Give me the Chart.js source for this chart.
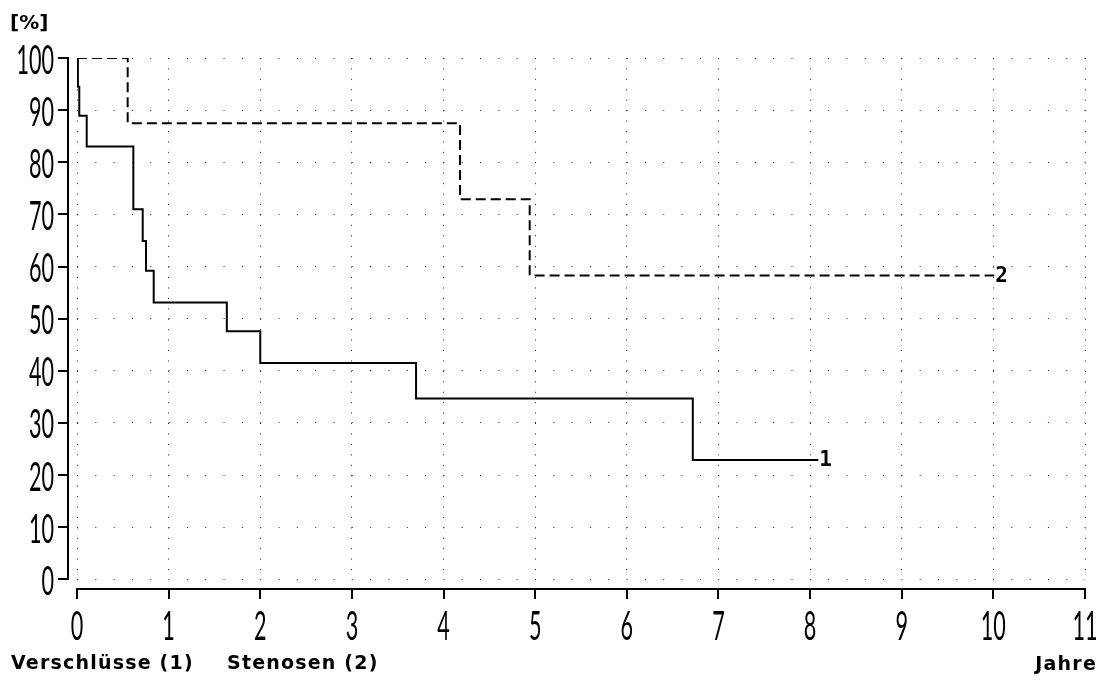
<!DOCTYPE html>
<html lang="de">
<head>
<meta charset="utf-8">
<title>Verschlüsse und Stenosen</title>
<script src="https://cdn.jsdelivr.net/npm/chart.js@4.4.1/dist/chart.umd.min.js"></script>
<style>
  html, body { margin: 0; padding: 0; background: #ffffff; }
  #wrap { position: relative; width: 1107px; height: 681px; }
</style>
</head>
<body>
<div id="wrap"><canvas id="chart"></canvas></div>
<script>
// Survival curves (percent) over follow-up time (years)
const occlusionYears    = [0, 0.01, 0.025, 0.106, 0.615, 0.717, 0.753, 0.837, 1.635, 2.0, 3.70, 6.72, 8.09];
const occlusionPercent  = [100, 94.5, 88.9, 83.0, 71.0, 64.9, 59.2, 53.1, 47.6, 41.5, 34.7, 22.9, 22.9];
const stenosisYears     = [0, 0.553, 4.18, 4.94, 10.01];
const stenosisPercent   = [100, 87.5, 72.9, 58.3, 58.3];

// Axis ticks and text
const xTickValues = [0, 1, 2, 3, 4, 5, 6, 7, 8, 9, 10, 11];
const yTickValues = [0, 10, 20, 30, 40, 50, 60, 70, 80, 90, 100];
const curveTags   = ['1', '2'];
const groupNames  = ['Verschlüsse (1)', 'Stenosen (2)'];
const xAxisName   = 'Jahre';
const yAxisName   = '[%]';

const toPoints = (xs, ys) => xs.map((v, i) => ({ x: v, y: ys[i] }));

// Axis lines, tick marks, stretched tick digits, curve tags and captions
const handAxes = {
  id: 'handAxes',
  afterDraw(chart) {
    const { ctx } = chart;
    const xs = chart.scales.x, ys = chart.scales.y;
    const axisXPos = Math.round(xs.left) - 9;     // vertical axis line
    const axisYPos = Math.round(ys.bottom) + 10;  // horizontal axis line
    ctx.save();
    ctx.strokeStyle = '#000';
    ctx.fillStyle = '#000';
    ctx.lineWidth = 2;
    ctx.lineCap = 'butt';

    // y axis
    ctx.beginPath();
    ctx.moveTo(axisXPos, Math.round(ys.getPixelForValue(100)) - 1);
    ctx.lineTo(axisXPos, Math.round(ys.getPixelForValue(0)) + 1);
    yTickValues.forEach(v => {
      const py = Math.round(ys.getPixelForValue(v));
      ctx.moveTo(axisXPos - 10, py);
      ctx.lineTo(axisXPos + 1, py);
    });
    ctx.stroke();

    // x axis
    ctx.beginPath();
    ctx.moveTo(Math.round(xs.getPixelForValue(0)) - 1, axisYPos);
    ctx.lineTo(Math.round(xs.getPixelForValue(11)) + 1, axisYPos);
    xTickValues.forEach(v => {
      const px = Math.round(xs.getPixelForValue(v));
      ctx.moveTo(px, axisYPos - 1);
      ctx.lineTo(px, axisYPos + 10);
    });
    ctx.stroke();

    // tall, narrow tick digits
    const sx = 1.2, sy = 2.3;
    ctx.font = '400 18px Lato, "Liberation Sans", sans-serif';
    ctx.textBaseline = 'alphabetic';
    ctx.textAlign = 'right';
    yTickValues.forEach(v => {
      const py = ys.getPixelForValue(v);
      ctx.save();
      ctx.translate(axisXPos - 14, py + 15.5);
      ctx.scale(sx, sy);
      ctx.fillText(String(v), 0, 0);
      ctx.restore();
    });
    ctx.textAlign = 'center';
    xTickValues.forEach(v => {
      const px = xs.getPixelForValue(v);
      ctx.save();
      ctx.translate(px, axisYPos + 51);
      ctx.scale(sx, sy);
      ctx.fillText(String(v), 0, 0);
      ctx.restore();
    });

    // curve tags at the curve ends
    ctx.font = 'bold 21px "DejaVu Sans Mono", monospace';
    ctx.textAlign = 'left';
    ctx.textBaseline = 'middle';
    chart.data.datasets.forEach((ds, i) => {
      const meta = chart.getDatasetMeta(i);
      const last = meta.data[meta.data.length - 1];
      ctx.fillText(curveTags[i], last.x + 1, last.y + 1);
    });

    // captions
    ctx.textBaseline = 'alphabetic';
    ctx.textAlign = 'left';
    ctx.font = 'bold 20px "DejaVu Sans", sans-serif';
    ctx.fillText(yAxisName, 10, 29);
    ctx.font = 'bold 19px "DejaVu Sans", sans-serif';
    if ('letterSpacing' in ctx) ctx.letterSpacing = '1.2px';
    ctx.fillText(groupNames[0], 11, 669);
    ctx.fillText(groupNames[1], 227, 669);
    ctx.textAlign = 'right';
    ctx.fillText(xAxisName, 1097, 670);
    ctx.restore();
  }
};

new Chart(document.getElementById('chart'), {
  type: 'line',
  data: {
    datasets: [
      {
        label: groupNames[0],
        data: toPoints(occlusionYears, occlusionPercent),
        borderColor: '#000',
        borderWidth: 2,
        stepped: true,
        pointRadius: 0,
        fill: false,
        borderJoinStyle: 'miter'
      },
      {
        label: groupNames[1],
        data: toPoints(stenosisYears, stenosisPercent),
        borderColor: '#000',
        borderWidth: 2,
        borderDash: [10, 5],
        stepped: true,
        pointRadius: 0,
        fill: false,
        borderJoinStyle: 'miter'
      }
    ]
  },
  options: {
    responsive: true,
    maintainAspectRatio: false,
    animation: false,
    layout: { padding: { left: 77, right: 22, top: 58, bottom: 101.7 } },
    plugins: { legend: { display: false }, tooltip: { enabled: false }, title: { display: false } },
    scales: {
      x: {
        type: 'linear',
        min: 0, max: 11,
        afterBuildTicks: s => { s.ticks = xTickValues.map(v => ({ value: v })); },
        ticks: { display: false },
        grid: { color: '#222', lineWidth: 1, drawTicks: false },
        border: { display: false, dash: [1, 9.43] }
      },
      y: {
        type: 'linear',
        min: 0, max: 100,
        afterBuildTicks: s => { s.ticks = yTickValues.map(v => ({ value: v })); },
        ticks: { display: false },
        grid: { color: '#222', lineWidth: 1, drawTicks: false },
        border: { display: false, dash: [1, 17.32] }
      }
    }
  },
  plugins: [handAxes]
});
</script>
</body>
</html>
